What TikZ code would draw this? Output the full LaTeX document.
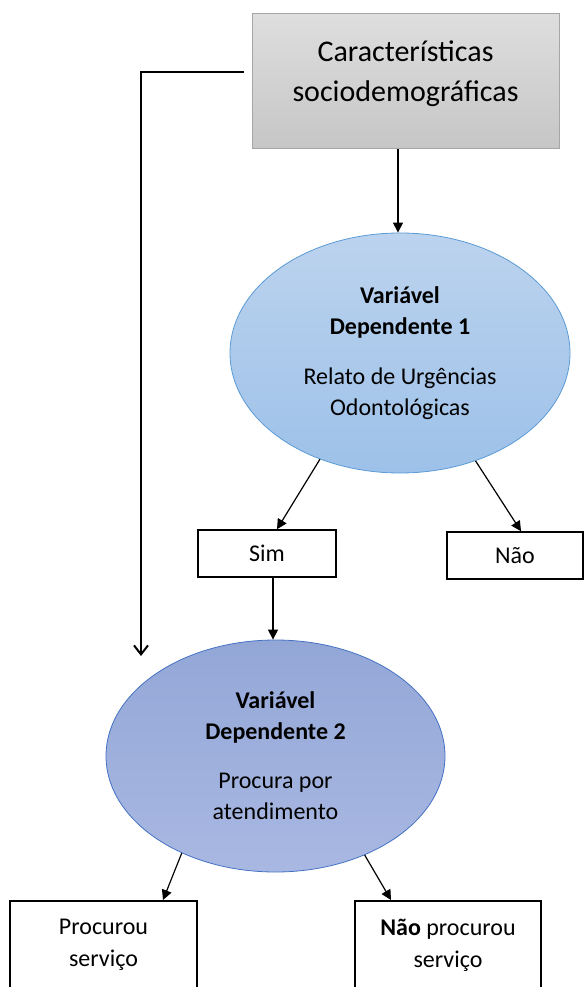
\documentclass[tikz,border=0pt]{standalone}
\usepackage{fontspec}
\setmainfont{Carlito}
\usetikzlibrary{shapes.geometric,arrows.meta}
\definecolor{boxtop}{HTML}{DEDEDE}
\definecolor{boxbot}{HTML}{C6C6C6}
\definecolor{boxdraw}{HTML}{A6A6A6}
\definecolor{eatop}{HTML}{BCD3EE}
\definecolor{eabot}{HTML}{9DC1E9}
\definecolor{eadraw}{HTML}{5B9BD5}
\definecolor{ebtop}{HTML}{93A7D7}
\definecolor{ebbot}{HTML}{A9B8E2}
\definecolor{ebdraw}{HTML}{4472C4}
\tikzset{
  ell/.style={ellipse, inner sep=0pt, minimum width=340pt, align=center, font=\fontsize{24}{31}\selectfont},
  rbox/.style={draw=black, line width=1.6pt, inner sep=0pt, align=center, font=\fontsize{24}{32}\selectfont},
  txt/.style={inner sep=0pt, align=center, font=\fontsize{24}{32}\selectfont},
  arr/.style={-{Triangle[length=10pt,width=10pt]}, line width=1.2pt},
}
\begin{document}
\begin{tikzpicture}[x=1pt,y=1pt]
\useasboundingbox (0,0) rectangle (584,-987);
% top box
\node[draw=boxdraw, line width=1pt, top color=boxtop, bottom color=boxbot,
  minimum width=307pt, minimum height=135pt, inner sep=0pt, anchor=north west] (top) at (252,-13) {};
\node[inner sep=0pt, align=center, font=\fontsize{30}{40}\selectfont] (toptext) at (405.5,-73.5)
  {Características\\sociodemográficas};
% ellipse 1
\node[ell, minimum height=240pt, draw=eadraw, line width=0.8pt, top color=eatop, bottom color=eabot] (e1) at (400,-353)
  {\textbf{Variável}\\\textbf{Dependente 1}\\[19pt]Relato de Urgências\\Odontológicas};
% Sim / Nao
\node[rbox, minimum width=138pt, minimum height=47pt] (sim) at (267,-553.5) {Sim};
\node[rbox, minimum width=136pt, minimum height=47pt] (nao) at (515,-555.5) {Não};
% ellipse 2
\node[ell, minimum width=339pt, minimum height=232pt, draw=ebdraw, line width=0.8pt, top color=ebtop, bottom color=ebbot] (e2) at (275.5,-756)
  {\textbf{Variável}\\\textbf{Dependente 2}\\[18pt]Procura por\\atendimento};
% bottom boxes
\node[rbox, minimum width=187pt, minimum height=100pt, anchor=north] (proc) at (103.5,-900) {};
\node[txt] (proctext) at (103.5,-945) {Procurou\\serviço};
\node[rbox, minimum width=186pt, minimum height=100pt, anchor=north] (naoproc) at (448,-900) {};
\node[txt] (naoproctext) at (448,-945) {\textbf{Não} procurou\\serviço};
% connectors
\coordinate (s1) at (244,-72);
\coordinate (t1) at (141,-656);
\draw[line width=2pt, -{Straight Barb[length=9pt,width=14pt]}] (s1) -| (t1);
\draw[arr] (top.south -| 398,0) -- (e1.north -| 398,0);
\draw[arr] (e1.-127.5) -- (sim.north -| 277,0);
\draw[arr] (e1.-55) -- (nao.north -| 521,0);
\draw[arr] (sim.south -| 273,0) -- (e2.north -| 273,0);
\draw[arr] (e2.-134) -- (proc.north -| 163,0);
\draw[arr] (e2.-48) -- (naoproc.north -| 391,0);
\end{tikzpicture}
\end{document}
